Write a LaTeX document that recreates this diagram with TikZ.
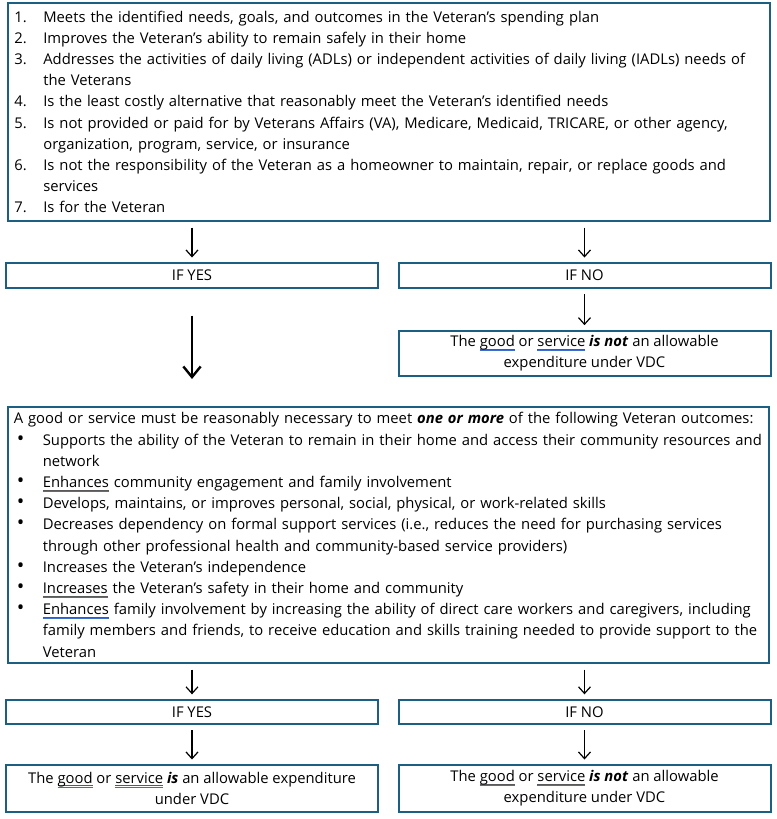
\documentclass[tikz,border=0pt]{standalone}
\usepackage{fontspec}
\setmainfont{Open Sans}
\usetikzlibrary{arrows.meta,positioning}
\definecolor{boxblue}{RGB}{29,95,130}
\definecolor{gramblue}{RGB}{60,110,210}
\definecolor{gramgrey}{RGB}{90,90,90}
% word marked by the grammar checker
\newcommand\gram[1]{\setbox0\hbox{#1}\rlap{\color{gramgrey}\rule[-1.9pt]{\wd0}{0.45pt}}\rlap{\color{gramblue}\rule[-3.0pt]{\wd0}{0.6pt}}\box0\relax}
\newcommand\itm[2]{\makebox[21.75pt][l]{#1}#2}
\newcommand\cnt[1]{\makebox[21.75pt]{}#1}
\newcommand\bul[1]{\makebox[21.75pt][l]{\hspace{2.2pt}{\fontsize{15}{15}\selectfont\textbullet}}#1}
\newcommand\bi[1]{\textbf{\textit{#1}}}

\tikzset{
  box/.style={draw=boxblue,line width=1.5pt,inner sep=0pt,align=center,
    font=\fontsize{11.1}{15.9}\selectfont},
  bigbox/.style={box,align=left,inner xsep=4.5pt,text width=562pt},
  yesno/.style={box,minimum width=279pt,minimum height=18.5pt},
  result/.style={box,minimum width=279pt,minimum height=34pt},
  arr/.style={-{Straight Barb[length=5pt,width=9pt]},line width=0.9pt,shorten <=4pt,shorten >=3.5pt},
  bigarr/.style={-{Straight Barb[length=8pt,width=13pt]},line width=1.8pt}
}

\begin{document}
\begin{tikzpicture}[x=0.75pt,y=-0.75pt]
\useasboundingbox (0,0) rectangle (777,819);

% first question
\node[bigbox,minimum height=164pt] (crit) at (389,112) {%
\itm{1.}{Meets the identified needs, goals, and outcomes in the Veteran’s spending plan}\\
\itm{2.}{Improves the Veteran’s ability to remain safely in their home}\\
\itm{3.}{Addresses the activities of daily living (ADLs) or independent activities of daily living (IADLs) needs of}\\
\cnt{the Veterans}\\
\itm{4.}{Is the least costly alternative that reasonably meet the Veteran’s identified needs}\\
\itm{5.}{Is not provided or paid for by Veterans Affairs (VA), Medicare, Medicaid, TRICARE, or other agency,}\\
\cnt{organization, program, service, or insurance}\\
\itm{6.}{Is not the responsibility of the Veteran as a homeowner to maintain, repair, or replace goods and}\\
\cnt{services}\\
\itm{7.}{Is for the Veteran}};

\node[yesno] (yes1) at (192,275.5) {IF YES};
\node[yesno] (no1) at (584.5,275.5) {IF NO};
\node[result] (notok1) at (584.5,353.5) {The \gram{good} or \gram{service} \bi{is not} an allowable\\expenditure under VDC};

% second question
\node[bigbox,minimum height=192.5pt] (outc) at (388.5,535) {%
A good or service must be reasonably necessary to meet \bi{one or more} of the following Veteran outcomes:\\
\bul{Supports the ability of the Veteran to remain in their home and access their community resources and}\\
\cnt{network}\\
\bul{\gram{Enhances} community engagement and family involvement}\\
\bul{Develops, maintains, or improves personal, social, physical, or work-related skills}\\
\bul{Decreases dependency on formal support services (i.e., reduces the need for purchasing services}\\
\cnt{through other professional health and community-based service providers)}\\
\bul{Increases the Veteran’s independence}\\
\bul{\gram{Increases} the Veteran’s safety in their home and community}\\
\bul{\gram{Enhances} family involvement by increasing the ability of direct care workers and caregivers, including}\\
\cnt{family members and friends, to receive education and skills training needed to provide support to the}\\
\cnt{Veteran}};

\node[yesno,minimum height=18pt] (yes2) at (192,712) {IF YES};
\node[yesno,minimum height=18pt] (no2) at (584.5,712) {IF NO};
\node[result,minimum height=35pt] (ok) at (192,788.5) {The \gram{good} or \gram{service} \bi{is} an allowable expenditure\\under VDC};
\node[result,minimum height=35pt] (notok2) at (584.5,788.5) {The \gram{good} or \gram{service} \bi{is not} an allowable\\expenditure under VDC};

\draw[arr] (crit.south -| yes1.north) -- (yes1.north);
\draw[arr] (crit.south -| no1.north) -- (no1.north);
\draw[arr] (no1) -- (notok1);
\draw[bigarr,shorten <=20pt,shorten >=20pt] (yes1) -- (outc.north -| yes1.south);
\draw[arr] (outc.south -| yes2.north) -- (yes2.north);
\draw[arr] (outc.south -| no2.north) -- (no2.north);
\draw[arr] (yes2) -- (ok);
\draw[arr] (no2) -- (notok2);
\end{tikzpicture}
\end{document}
